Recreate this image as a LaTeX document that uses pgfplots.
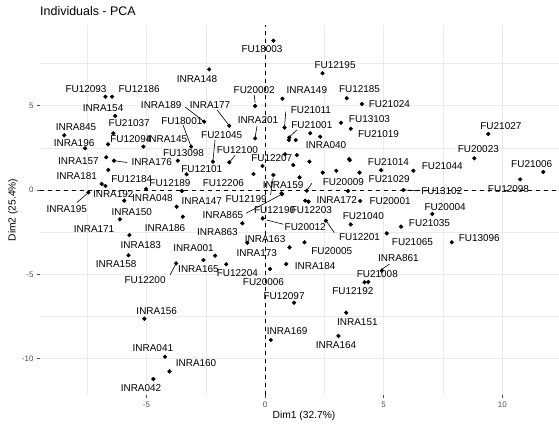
\documentclass[border=0pt]{standalone}
\usepackage{fontspec}
\setmainfont{Liberation Sans}
\usepackage{pgfplots}
\pgfplotsset{compat=1.18}
\definecolor{gridgrey}{HTML}{EBEBEB}
\definecolor{tickgrey}{HTML}{4D4D4D}

% individuals (Dim1, Dim2)
\pgfplotstableread{
x y
0.35 8.85
-2.36 7.15
2.42 6.92
-6.73 5.53
-6.45 5.53
0.73 5.41
3.44 5.44
4.08 5.10
-0.42 4.98
-6.32 4.39
-2.57 4.05
3.20 3.99
-1.51 3.81
0.82 3.70
3.61 3.63
9.41 3.32
-6.40 3.36
-8.47 3.24
1.02 3.11
1.00 2.96
1.29 2.96
1.90 3.36
2.32 3.16
-0.42 3.06
-6.62 2.71
-5.13 2.57
-3.12 2.57
-7.59 2.47
-6.70 1.94
-6.37 1.74
-3.68 1.74
-2.20 1.68
-1.51 1.64
-0.11 1.42
-6.61 1.19
-3.31 0.93
-0.49 0.95
0.35 0.89
0.84 2.12
1.34 2.07
1.19 1.48
1.87 1.68
1.45 0.75
2.43 1.03
3.00 1.14
3.54 1.83
3.57 1.77
3.98 1.03
4.89 1.17
6.25 1.14
8.82 1.88
11.73 1.07
10.75 0.63
5.83 0.00
3.49 -0.06
1.76 -0.04
0.72 -0.24
0.69 -0.20
1.69 -0.63
1.83 -0.69
4.01 -0.65
7.05 -1.42
5.73 -2.17
3.61 -2.04
2.56 -1.82
-0.10 -1.68
5.13 -2.57
7.87 -3.10
1.66 -3.10
1.03 -3.40
-0.75 -3.13
0.89 -4.39
0.21 -4.68
-2.11 -3.89
-2.60 -4.15
-1.64 -4.40
1.22 -6.68
4.92 -4.78
4.35 -5.45
4.19 -5.47
3.42 -7.27
3.09 -8.65
0.24 -8.89
-5.09 -7.63
-4.22 -9.88
-4.03 -10.75
-4.71 -11.20
-3.75 -4.35
-5.76 -3.87
-5.72 -2.67
-6.12 -1.74
-5.94 -0.63
-7.45 -0.14
-6.73 0.24
-6.89 0.36
-5.02 0.06
-3.51 -0.06
-3.73 -0.99
-3.47 -1.58
-0.96 -1.97
}\pts

% label positions
\pgfplotstableread{
lx ly lab
-0.13 8.36 FU18003
-2.87 6.58 INRA148
2.95 7.41 FU12195
-7.55 6.00 FU12093
-5.31 6.00 FU12186
1.76 5.93 INRA149
-0.46 5.93 FU20002
3.98 6.00 FU12185
5.24 5.10 FU21024
-6.83 4.86 INRA154
-4.38 5.04 INRA189
-2.32 5.04 INRA177
1.93 4.74 FU21011
4.40 4.19 FU13103
-3.51 4.11 FU18001
-0.30 4.15 INRA201
-7.97 3.75 INRA845
-5.73 3.95 FU21037
9.94 3.79 FU21027
1.97 3.85 FU21001
4.78 3.30 FU21019
-1.83 3.26 FU21045
-8.05 2.80 INRA196
-5.66 3.01 FU12094
-4.14 3.01 INRA145
2.57 2.67 INRA040
8.99 2.41 FU20023
-1.17 2.37 FU12100
-3.44 2.18 FU13098
0.28 1.88 FU12207
-7.87 1.74 INRA157
-4.78 1.66 INRA176
5.20 1.64 FU21014
11.24 1.54 FU21006
7.47 1.42 FU21044
-2.67 1.23 FU12101
-7.94 0.83 INRA181
5.23 0.65 FU21029
-5.62 0.63 FU12184
-4.01 0.43 FU12189
-1.76 0.40 FU12206
3.30 0.49 FU20009
0.76 0.30 INRA159
10.26 0.08 FU12098
7.45 -0.06 FU13102
-6.40 -0.24 INRA192
-4.75 -0.49 INRA048
-2.67 -0.63 INRA147
-0.80 -0.55 FU12199
3.02 -0.59 INRA172
5.27 -0.63 FU20001
-8.36 -1.14 INRA195
0.40 -1.19 FU12190
1.95 -1.19 FU12203
-5.62 -1.29 INRA150
-1.78 -1.48 INRA865
7.59 -0.99 FU20004
1.69 -2.18 FU20012
-4.22 -2.27 INRA186
-7.21 -2.31 INRA171
-2.01 -2.47 INRA863
4.14 -1.54 FU21040
6.93 -1.97 FU21035
3.98 -2.77 FU12201
9.03 -2.86 FU13096
0.00 -2.90 INRA163
6.21 -3.10 FU21065
-5.24 -3.24 INRA183
-3.02 -3.46 INRA001
2.81 -3.62 FU20005
-0.35 -3.75 INRA173
5.62 -4.05 INRA861
-6.28 -4.39 INRA158
2.11 -4.50 INRA184
-2.81 -4.70 INRA165
-1.17 -4.94 FU12204
4.73 -4.98 FU21008
-5.06 -5.33 FU12200
-0.07 -5.44 FU20006
3.70 -5.99 FU12192
0.80 -6.28 FU12097
-4.57 -7.17 INRA156
3.89 -7.84 INRA151
0.93 -8.36 INRA169
2.99 -9.19 INRA164
-4.73 -9.38 INRA041
-2.91 -10.27 INRA160
-5.23 -11.72 INRA042
}\labs

% leader segments from labels to points
\pgfplotstableread{
x y
-3.37 4.92
-2.57 4.05
nan nan
-3.46 3.85
-3.12 2.57
nan nan
-2.02 4.74
-1.51 3.81
nan nan
-0.46 5.63
-0.42 5.16
nan nan
-0.34 3.79
-0.42 3.14
nan nan
-2.11 2.96
-2.20 1.72
nan nan
-1.26 2.07
-1.49 1.66
nan nan
0.87 4.64
0.82 3.73
nan nan
1.34 3.56
1.02 3.14
nan nan
-6.28 1.72
-5.82 1.63
nan nan
-7.94 -0.75
-7.49 -0.20
nan nan
0.23 -0.30
0.34 0.71
nan nan
1.97 0.40
1.77 0.00
nan nan
-0.80 -1.38
0.72 -0.24
nan nan
0.07 -1.78
0.77 -2.03
nan nan
2.60 -1.88
2.92 -2.53
nan nan
5.90 0.00
6.53 -0.04
nan nan
5.24 -4.39
4.92 -4.70
nan nan
-4.01 -5.04
-3.75 -4.35
}\segs

\begin{document}
\begin{tikzpicture}
\useasboundingbox (-40bp,-31bp) rectangle (519bp,395bp);
\begin{axis}[
  at={(0,0)}, anchor=south west,
  scale only axis, width=519bp, height=370bp,
  xmin=-9.49, xmax=12.39, ymin=-12.15, ymax=9.78,
  axis line style={draw=none},
  xtick={-5,0,5,10}, xticklabels={-5,0,5,10},
  ytick={-10,-5,0,5}, yticklabels={-10,-5,0,5},
  minor xtick={-7.5,-2.5,2.5,7.5}, minor ytick={-7.5,-2.5,2.5,7.5},
  grid=both,
  major grid style={gridgrey, line width=0.9bp},
  minor grid style={gridgrey, line width=0.45bp},
  tick pos=left, tick align=outside,
  major tick length=3bp, minor tick length=0pt,
  tick style={tickgrey, line width=0.5bp},
  ticklabel style={font=\fontsize{8}{9}\selectfont, text=tickgrey},
  xlabel={Dim1 (32.7\%)}, ylabel={Dim2 (25.4\%)},
  every axis x label/.style={at={(rel axis cs:0.5,0)}, xshift=4.5bp, yshift=-16bp, anchor=north, inner sep=0pt, font=\fontsize{10.3}{12}\selectfont},
  every axis y label/.style={at={(rel axis cs:0,0.5)}, xshift=-27bp, rotate=90, anchor=center, inner sep=0pt, font=\fontsize{10.3}{12}\selectfont},
  clip=false,
  unbounded coords=jump,
]
\draw[black, line width=0.8bp, dash pattern=on 4bp off 4bp] (axis cs:0,-12.15) -- (axis cs:0,9.78);
\draw[black, line width=0.8bp, dash pattern=on 4bp off 4bp] (axis cs:-9.49,0) -- (axis cs:12.39,0);
\addplot[black, line width=0.6bp, mark=none] table {\segs};
\addplot[only marks, mark=*, mark size=1.9bp, black] table {\pts};
\addplot[draw=none, mark=none, nodes near coords, point meta=explicit symbolic,
  every node near coord/.append style={anchor=center, inner sep=0pt, font=\fontsize{10}{12}\selectfont, text=black}]
  table[x=lx, y=ly, meta=lab] {\labs};
\node[anchor=base west, yshift=9bp, inner sep=0pt, font=\fontsize{12.5}{14}\selectfont] at (rel axis cs:0,1) {Individuals - PCA};
\end{axis}
\end{tikzpicture}
\end{document}
